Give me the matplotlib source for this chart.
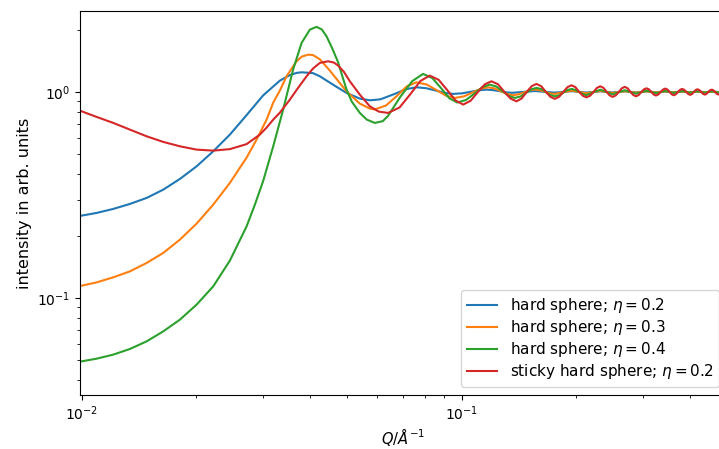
import numpy as np
from matplotlib import pyplot as plt

# values (Q in 1/Angstrom, S in arb. units)
q_hs02 = [0.01, 0.01095, 0.01211, 0.0134, 0.01483, 0.0164, 0.01814, 0.02007, 0.0222, 0.02456,
          0.02718, 0.03005, 0.03326, 0.03533, 0.03679, 0.03793, 0.04062, 0.04237, 0.04501, 0.04726,
          0.04981, 0.05399, 0.05736, 0.06095, 0.0621, 0.0668, 0.0714, 0.0761, 0.0808, 0.0856,
          0.0903, 0.095, 0.1003, 0.1056, 0.111, 0.1163, 0.1212, 0.1261, 0.131, 0.136,
          0.156, 0.176, 0.195, 0.213, 0.232, 0.25, 0.269, 0.288, 0.307, 0.325,
          0.344, 0.362, 0.381, 0.4, 0.418, 0.437, 0.456, 0.476]
s_hs02 = [0.2509, 0.2586, 0.2704, 0.286, 0.3058, 0.3355, 0.3781, 0.4352, 0.5148, 0.6205,
          0.7716, 0.962, 1.1346, 1.2065, 1.2365, 1.2452, 1.2341, 1.191, 1.1095, 1.049,
          0.989, 0.9278, 0.9104, 0.9196, 0.93, 0.979, 1.031, 1.053, 1.042, 1.015,
          0.989, 0.978, 0.984, 1.001, 1.018, 1.026, 1.02, 1.008, 0.995, 0.99,
          1.01, 0.992, 1.008, 0.993, 1.007, 0.994, 1.006, 0.995, 1.005, 0.996,
          1.004, 0.996, 1.004, 0.997, 1.003, 0.997, 1.003, 0.998]

q_hs03 = [0.01, 0.01095, 0.01211, 0.0134, 0.01483, 0.0164, 0.01814, 0.02007, 0.0222, 0.02456,
          0.02718, 0.02887, 0.03068, 0.03194, 0.03326, 0.03463, 0.03679, 0.03799, 0.03948, 0.04065,
          0.04237, 0.04501, 0.04726, 0.04981, 0.05399, 0.05736, 0.05912, 0.0633, 0.0676, 0.0718,
          0.0761, 0.0811, 0.086, 0.091, 0.096, 0.1014, 0.1068, 0.1121, 0.1175, 0.1223,
          0.1271, 0.1319, 0.1367, 0.1415, 0.1463, 0.1511, 0.1559, 0.1609, 0.166, 0.171,
          0.176, 0.1854, 0.195, 0.213, 0.232, 0.25, 0.269, 0.288, 0.307, 0.325,
          0.344, 0.362, 0.381, 0.4, 0.418, 0.437, 0.456, 0.476]
s_hs03 = [0.1147, 0.119, 0.1259, 0.1346, 0.1479, 0.1654, 0.1919, 0.2294, 0.2837, 0.3617,
          0.4799, 0.5866, 0.7337, 0.8872, 1.016, 1.191, 1.408, 1.484, 1.517, 1.509,
          1.44, 1.269, 1.1346, 1.0067, 0.8773, 0.83, 0.822, 0.8595, 0.9565, 1.0646,
          1.113, 1.085, 1.02, 0.959, 0.935, 0.951, 0.992, 1.035, 1.053, 1.039,
          1.007, 0.9757, 0.963, 0.974, 0.995, 1.019, 1.026, 1.019, 1.002, 0.984,
          0.978, 0.996, 1.0146, 0.985, 1.011, 0.989, 1.008, 0.992, 1.006, 0.994,
          1.005, 0.995, 1.004, 0.996, 1.003, 0.997, 1.003, 0.997]

q_hs04 = [0.01, 0.01095, 0.01211, 0.0134, 0.01483, 0.0164, 0.01814, 0.02007, 0.0222, 0.02456,
          0.02718, 0.02858, 0.03005, 0.03194, 0.03392, 0.03603, 0.03793, 0.03989, 0.04153, 0.04289,
          0.04412, 0.04558, 0.04726, 0.04842, 0.04981, 0.05143, 0.05399, 0.05632, 0.05912, 0.06206,
          0.0641, 0.0691, 0.0742, 0.0792, 0.0838, 0.0884, 0.0929, 0.0975, 0.1028, 0.1081,
          0.1134, 0.1187, 0.1236, 0.1284, 0.1333, 0.1381, 0.143, 0.1478, 0.1527, 0.1575,
          0.1621, 0.1668, 0.1714, 0.176, 0.1807, 0.1854, 0.1901, 0.195, 0.1994, 0.2041,
          0.2087, 0.213, 0.232, 0.25, 0.269, 0.288, 0.307, 0.325, 0.344, 0.362,
          0.381, 0.4, 0.418, 0.437, 0.456, 0.476]
s_hs04 = [0.04923, 0.05073, 0.05307, 0.05655, 0.06157, 0.06884, 0.07845, 0.09279, 0.1138, 0.1518,
          0.2226, 0.2837, 0.3695, 0.5445, 0.8206, 1.283, 1.729, 2.006, 2.069, 2.009,
          1.862, 1.641, 1.403, 1.213, 1.026, 0.897, 0.7907, 0.7337, 0.7071, 0.7214,
          0.766, 0.95, 1.128, 1.223, 1.167, 1.042, 0.931, 0.888, 0.914, 0.981,
          1.054, 1.085, 1.061, 1.007, 0.9557, 0.935, 0.95, 0.989, 1.029, 1.046,
          1.032, 0.998, 0.965, 0.952, 0.963, 0.992, 1.021, 1.034, 1.022, 0.999,
          0.975, 0.965, 1.025, 0.974, 1.019, 0.98, 1.015, 0.985, 1.012, 0.988,
          1.01, 0.99, 1.008, 0.992, 1.007, 0.993]

q_shs02 = [0.01, 0.01095, 0.01211, 0.0134, 0.01483, 0.0164, 0.01814, 0.02007, 0.0222, 0.02456,
           0.02718, 0.02945, 0.03068, 0.03194, 0.03326, 0.03533, 0.03709, 0.0391, 0.04062, 0.04237,
           0.04455, 0.04613, 0.04726, 0.04901, 0.05082, 0.05399, 0.05736, 0.06058, 0.06408, 0.0687,
           0.0733, 0.0779, 0.0825, 0.0871, 0.0917, 0.0964, 0.101, 0.1057, 0.1105, 0.1152,
           0.1199, 0.1248, 0.1297, 0.1346, 0.1395, 0.144, 0.1485, 0.153, 0.1575, 0.1621,
           0.1668, 0.1714, 0.176, 0.1807, 0.1854, 0.1901, 0.1948, 0.1994, 0.2041, 0.2087,
           0.2133, 0.218, 0.2227, 0.2273, 0.232, 0.2365, 0.241, 0.2455, 0.25, 0.2548,
           0.2595, 0.2643, 0.269, 0.2738, 0.2785, 0.2833, 0.288, 0.2928, 0.2975, 0.3023,
           0.307, 0.3115, 0.316, 0.3205, 0.325, 0.3298, 0.3345, 0.3393, 0.344, 0.3485,
           0.353, 0.3575, 0.362, 0.3668, 0.3715, 0.3763, 0.381, 0.3858, 0.3905, 0.3953,
           0.4, 0.4045, 0.409, 0.4135, 0.418, 0.4228, 0.4275, 0.4323, 0.437, 0.4418,
           0.4465, 0.4513, 0.456, 0.4605, 0.465, 0.4695, 0.474, 0.476]
s_shs02 = [0.805, 0.7562, 0.7071, 0.6561, 0.6088, 0.5719, 0.5445, 0.5247, 0.5188, 0.5276,
           0.5579, 0.6205, 0.671, 0.7337, 0.7934, 0.9175, 1.043, 1.191, 1.297, 1.383,
           1.408, 1.388, 1.346, 1.253, 1.126, 0.97, 0.8513, 0.8023, 0.7907, 0.8405,
           0.974, 1.129, 1.2, 1.144, 1.021, 0.91, 0.868, 0.906, 1.0, 1.089,
           1.126, 1.089, 1.0, 0.929, 0.9, 0.929, 1.0, 1.066, 1.0935, 1.066,
           1.0, 0.947, 0.925, 0.947, 1.0, 1.055, 1.077, 1.055, 1.0, 0.958,
           0.941, 0.958, 1.0, 1.046, 1.065, 1.046, 1.0, 0.962, 0.946, 0.962,
           1.0, 1.041, 1.058, 1.041, 1.0, 0.966, 0.952, 0.966, 1.0, 1.029,
           1.041, 1.029, 1.0, 0.972, 0.96, 0.972, 1.0, 1.027, 1.038, 1.027,
           1.0, 0.974, 0.963, 0.974, 1.0, 1.024, 1.034, 1.024, 1.0, 0.977,
           0.967, 0.977, 1.0, 1.021, 1.03, 1.021, 1.0, 0.979, 0.97, 0.979,
           1.0, 1.018, 1.026, 1.018, 1.0, 0.98, 0.972, 0.973]

labels = [r'hard sphere; $\eta=0.2$', r'hard sphere; $\eta=0.3$',
          r'hard sphere; $\eta=0.4$', r'sticky hard sphere; $\eta=0.2$']

fig = plt.figure(figsize=(7.19, 4.49), dpi=100)
# axes reaches past the right border of the picture, as in the reference
ax = fig.add_axes([80/719., 54/449., 647/719., 384/449.])

ax.plot(q_hs02, s_hs02, label=labels[0])
ax.plot(q_hs03, s_hs03, label=labels[1])
ax.plot(q_hs04, s_hs04, label=labels[2])
ax.plot(q_shs02, s_shs02, label=labels[3])

ax.set_xscale('log')
ax.set_yscale('log')
ax.set_xlim(0.0099, 0.5)
ax.set_ylim(0.0338, 2.47)
ax.set_xlabel(r'$Q/\AA^{-1}$', fontsize=10.5, labelpad=2)
ax.set_ylabel('intensity in arb. units', fontsize=11.5)
ax.legend(loc='lower right', fontsize=11, labelspacing=0.2)

fig.savefig('out.png', dpi=100)
